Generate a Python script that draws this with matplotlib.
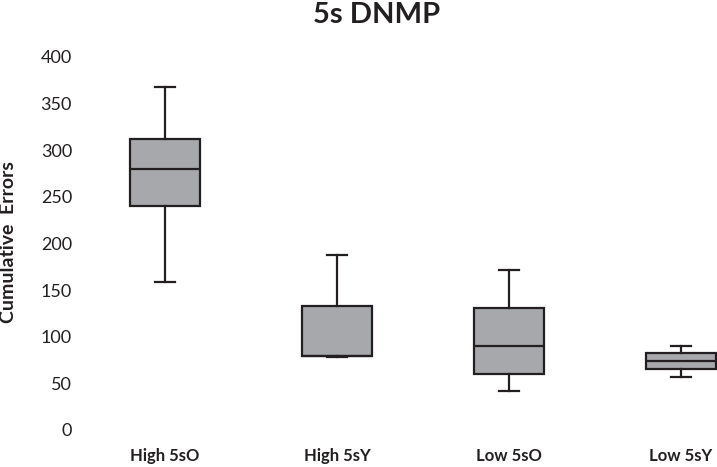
import matplotlib
matplotlib.use("Agg")
import matplotlib.pyplot as plt

categories = ["High 5sO", "High 5sY", "Low 5sO", "Low 5sY"]
whisker_low = [159, 78, 42, 57]
q1 = [240, 79, 60, 65]
median = [280, 79, 90, 74]
q3 = [312, 133, 131, 82]
whisker_high = [367, 187, 171, 90]
yticks = [0, 50, 100, 150, 200, 250, 300, 350, 400]

plt.rcParams['font.family'] = ['Lato', 'DejaVu Sans']

fig = plt.figure(figsize=(7.17, 4.67), dpi=100)
W, H = 717, 467
left_px, right_px = 79, 717
top_px, bot_px = 56.7, 430
ax = fig.add_axes([left_px / W, (H - bot_px) / H, (right_px - left_px) / W, (bot_px - top_px) / H])

stats = []
for i, c in enumerate(categories):
    stats.append(dict(label=c, whislo=whisker_low[i], q1=q1[i], med=median[i],
                      q3=q3[i], whishi=whisker_high[i], fliers=[]))

edge = "#231f20"
ax.bxp(stats, positions=[1, 2, 3, 4], widths=0.405, patch_artist=True, showfliers=False,
       boxprops=dict(facecolor="#a6a8ab", edgecolor=edge, linewidth=1.6),
       medianprops=dict(color=edge, linewidth=1.6),
       whiskerprops=dict(color=edge, linewidth=1.6),
       capprops=dict(color=edge, linewidth=1.6),
       capwidths=0.12)

ax.set_xlim(0.5, 0.5 + (right_px - left_px) / 172.0)
ax.set_ylim(0, 400)
ax.set_yticks(yticks)
ax.set_yticklabels([str(v) for v in yticks], fontsize=13, color="#231f20")
ax.set_xticks([1, 2, 3, 4])
ax.set_xticklabels(categories, fontsize=12, fontweight="bold", color="#231f20")
ax.tick_params(axis="both", length=0)
ax.tick_params(axis="y", pad=5)
ax.tick_params(axis="x", pad=13)
for s in ax.spines.values():
    s.set_visible(False)

fig.text(9 / W, 1 - 242.5 / H, "Cumulative  Errors", rotation=90, ha="center", va="center",
         fontsize=14, fontweight="bold", color="#231f20")
fig.text(376.7 / W, 1 - 15 / H, "5s DNMP", ha="center", va="center",
         fontsize=21, fontweight="bold", color="#231f20")

fig.savefig("out.png", dpi=100)
